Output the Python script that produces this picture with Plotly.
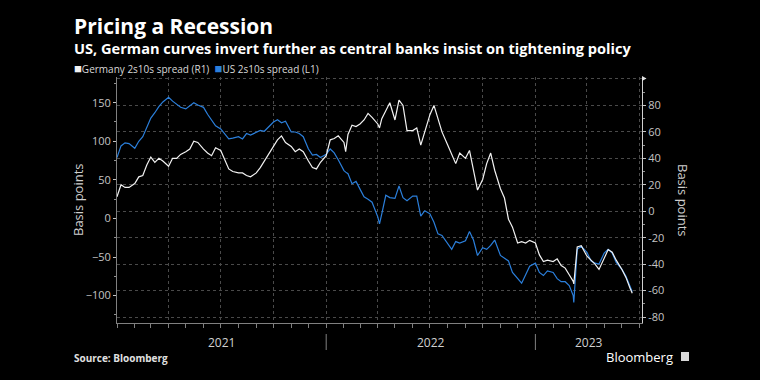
import plotly.graph_objects as go
import pandas as pd

TITLE = "Pricing a Recession"
SUBTITLE = "US, German curves invert further as central banks insist on tightening policy"
NAME_DE = "Germany 2s10s spread (R1)"
NAME_US = "US 2s10s spread (L1)"
SOURCE = "Source: Bloomberg"
BRAND = "Bloomberg"
AXIS_TITLE = "Basis points"
YEAR_LABELS = ["2021", "2022", "2023"]
YEAR_STARTS = ["2021-01-01", "2022-01-01", "2023-01-01"]
LEFT_TICKS = [-100, -50, 0, 50, 100, 150]
RIGHT_TICKS = [-80, -60, -40, -20, 0, 20, 40, 60, 80]
RIGHT_GRID_TOP = 100

DATES = [
    "2021-01-01", "2021-01-08", "2021-01-15", "2021-01-22", "2021-02-01", "2021-02-08", "2021-02-15", "2021-02-22",
    "2021-03-01", "2021-03-08", "2021-03-15", "2021-03-22", "2021-04-01", "2021-04-08", "2021-04-15", "2021-04-22",
    "2021-05-01", "2021-05-08", "2021-05-15", "2021-05-22", "2021-06-01", "2021-06-08", "2021-06-15", "2021-06-22",
    "2021-07-01", "2021-07-08", "2021-07-15", "2021-07-22", "2021-08-01", "2021-08-08", "2021-08-15", "2021-08-22",
    "2021-09-01", "2021-09-08", "2021-09-15", "2021-09-22", "2021-10-01", "2021-10-08", "2021-10-15", "2021-10-22",
    "2021-11-01", "2021-11-08", "2021-11-15", "2021-11-22", "2021-12-01", "2021-12-08", "2021-12-15", "2021-12-22",
    "2022-01-01", "2022-01-08", "2022-01-15", "2022-01-22", "2022-02-01", "2022-02-04", "2022-02-08", "2022-02-15",
    "2022-02-22", "2022-03-01", "2022-03-08", "2022-03-15", "2022-03-22", "2022-04-01", "2022-04-04", "2022-04-08",
    "2022-04-15", "2022-04-22", "2022-05-01", "2022-05-08", "2022-05-15", "2022-05-22", "2022-06-01", "2022-06-08",
    "2022-06-15", "2022-06-22", "2022-07-01", "2022-07-08", "2022-07-15", "2022-07-22", "2022-08-01", "2022-08-08",
    "2022-08-15", "2022-08-22", "2022-09-01", "2022-09-08", "2022-09-15", "2022-09-22", "2022-10-01", "2022-10-08",
    "2022-10-15", "2022-10-22", "2022-11-01", "2022-11-08", "2022-11-15", "2022-11-22", "2022-12-01", "2022-12-08",
    "2022-12-15", "2022-12-22", "2023-01-01", "2023-01-08", "2023-01-15", "2023-01-22", "2023-02-01", "2023-02-08",
    "2023-02-15", "2023-02-22", "2023-03-01", "2023-03-08", "2023-03-09", "2023-03-15", "2023-03-22", "2023-04-01",
    "2023-04-08", "2023-04-15", "2023-04-22", "2023-05-01", "2023-05-08", "2023-05-15", "2023-05-22", "2023-06-01",
    "2023-06-08", "2023-06-15", "2023-06-19",
]

US_SPREAD = [
    79, 94, 98, 97, 91, 100, 106, 118,
    130, 137, 145, 151, 157, 152, 148, 144,
    142, 146, 150, 147, 144, 135, 128, 120,
    116, 110, 103, 104, 106, 103, 110, 108,
    112, 114, 113, 118, 125, 128, 124, 126,
    112, 112, 110, 106, 90, 82, 83, 79,
    83, 90, 85, 76, 62, 60, 58, 45,
    48, 38, 28, 25, 21, 2, -7, 6,
    30, 27, 26, 42, 27, 23, 29, 29,
    3, 10, 6, -5, -20, -22, -32, -40,
    -30, -32, -29, -17, -28, -48, -38, -40,
    -35, -28, -48, -52, -55, -70, -78, -84,
    -73, -62, -58, -70, -74, -68, -70, -78,
    -82, -82, -87, -100, -109, -40, -36, -44,
    -55, -58, -59, -45, -40, -45, -57, -66,
    -75, -88, -95,
]

DE_SPREAD = [
    11, 20, 18, 18, 21, 26, 27, 35,
    41, 37, 40, 38, 34, 40, 40, 43,
    45, 47, 53, 52, 47, 44, 42, 48,
    46, 39, 32, 30, 29, 29, 27, 26,
    29, 33, 38, 42, 49, 54, 57, 52,
    49, 45, 47, 45, 38, 33, 32, 37,
    42, 54, 55, 57, 52, 45, 58, 65,
    64, 66, 69, 74, 71, 66, 63, 70,
    76, 82, 69, 84, 80, 61, 61, 63,
    50, 60, 73, 80, 70, 60, 50, 43,
    36, 44, 40, 46, 31, 16, 24, 36,
    44, 31, 17, 10, -6, -12, -24, -23,
    -24, -22, -24, -33, -38, -37, -38, -36,
    -41, -43, -48, -53, -55, -27, -26, -34,
    -37, -40, -44, -35, -29, -31, -37, -44,
    -50, -58, -62,
]

X_RANGE = ["2021-01-01", "2023-07-06"]
LEFT_RANGE = [-135.5, 183.3]
RIGHT_RANGE = [-84.5, 101.5]

W, H = 760, 380
L_PX, R_PX, T_PX, B_PX = 117, 642, 77, 323
PW, PH = R_PX - L_PX, B_PX - T_PX


def px_x(p):
    return (p - L_PX) / PW


def px_y(p):
    return (B_PX - p) / PH


FONT = "Open Sans"
BLUE = "#2b7fdb"
WHITE = "#f2f2f2"
TICK_COL = "#c4c4c4"
GRID_COL = "#4a4a4a"

fig = go.Figure()
fig.add_trace(go.Scatter(x=DATES, y=US_SPREAD, name=NAME_US, mode="lines",
                         line=dict(color=BLUE, width=1.2), yaxis="y"))
fig.add_trace(go.Scatter(x=DATES, y=DE_SPREAD, name=NAME_DE, mode="lines",
                         line=dict(color=WHITE, width=1.2), yaxis="y2"))

right_vals = RIGHT_TICKS + [RIGHT_GRID_TOP]
right_text = [str(v) for v in RIGHT_TICKS] + [""]

fig.update_layout(
    width=W, height=H,
    margin=dict(l=L_PX, r=W - R_PX, t=T_PX, b=H - B_PX),
    paper_bgcolor="black", plot_bgcolor="black",
    showlegend=False,
    font=dict(family=FONT, color=TICK_COL, size=11),
    xaxis=dict(
        type="date", range=X_RANGE, showgrid=True, griddash="dot", gridcolor=GRID_COL, gridwidth=1,
        dtick="M3", tick0="2021-01-01", ticks="outside", ticklen=4, tickcolor="#808080",
        showticklabels=False, showline=True, linecolor="#808080", linewidth=1, zeroline=False,
        minor=dict(dtick="M1", tick0="2021-01-01", ticks="outside", ticklen=4, tickcolor="#808080", showgrid=False),
    ),
    yaxis=dict(
        range=LEFT_RANGE, tickvals=LEFT_TICKS, showgrid=False, zeroline=False,
        ticks="outside", ticklen=3, tickcolor=TICK_COL, showline=True, linecolor="#808080",
        tickfont=dict(family=FONT, size=11, color=TICK_COL),
        minor=dict(dtick=25, tick0=0, ticks="outside", ticklen=2, tickcolor="#909090", showgrid=False),
    ),
    yaxis2=dict(
        range=RIGHT_RANGE, tickvals=right_vals, ticktext=right_text, overlaying="y", side="right", anchor="x",
        showgrid=True, griddash="dot", gridcolor=GRID_COL, gridwidth=1, zeroline=False,
        ticks="outside", ticklen=3, tickcolor=TICK_COL, showline=True, linecolor="#d0d0d0",
        tickfont=dict(family=FONT, size=11, color=TICK_COL),
        minor=dict(dtick=10, tick0=0, ticks="outside", ticklen=2, tickcolor="#909090", showgrid=False),
    ),
)

ann = []
ann.append(dict(text="<b>" + TITLE + "</b>", x=px_x(72), y=px_y(26.5), xref="paper", yref="paper",
                xanchor="left", yanchor="middle", showarrow=False,
                font=dict(family=FONT, size=21, color="white")))
ann.append(dict(text="<b>" + SUBTITLE + "</b>", x=px_x(72), y=px_y(47.5), xref="paper", yref="paper",
                xanchor="left", yanchor="middle", showarrow=False,
                font=dict(family=FONT, size=14.6, color="white")))
legend_txt = (f"<span style='color:{WHITE};font-size:13px'>■</span>{NAME_DE}  "
              f"<span style='color:{BLUE};font-size:13px'>■</span>{NAME_US}")
ann.append(dict(text=legend_txt, x=px_x(72), y=px_y(68), xref="paper", yref="paper",
                xanchor="left", yanchor="middle", showarrow=False,
                font=dict(family=FONT, size=10, color="#d8d8d8")))
ann.append(dict(text=AXIS_TITLE, x=px_x(78), y=0.5, xref="paper", yref="paper", textangle=-90,
                xanchor="center", yanchor="middle", showarrow=False,
                font=dict(family=FONT, size=13, color="#cfcfcf")))
ann.append(dict(text=AXIS_TITLE, x=px_x(683), y=0.5, xref="paper", yref="paper", textangle=90,
                xanchor="center", yanchor="middle", showarrow=False,
                font=dict(family=FONT, size=13, color="#cfcfcf")))
ann.append(dict(text="<b>" + SOURCE + "</b>", x=px_x(72), y=px_y(358), xref="paper", yref="paper",
                xanchor="left", yanchor="middle", showarrow=False,
                font=dict(family=FONT, size=10, color="#e0e0e0")))
ann.append(dict(text=BRAND, x=px_x(675), y=px_y(357), xref="paper", yref="paper",
                xanchor="right", yanchor="middle", showarrow=False,
                font=dict(family=FONT, size=13, color="white")))

# year labels centred in each year's span on the axis
starts = [pd.Timestamp(s) for s in YEAR_STARTS] + [pd.Timestamp(X_RANGE[1])]
for i, lab in enumerate(YEAR_LABELS):
    mid = starts[i] + (starts[i + 1] - starts[i]) / 2
    ann.append(dict(text=lab, x=mid, y=px_y(342), xref="x", yref="paper",
                    xanchor="center", yanchor="middle", showarrow=False,
                    font=dict(family=FONT, size=12, color="#d0d0d0")))
fig.update_layout(annotations=ann)

shapes = []
for s in YEAR_STARTS[1:]:
    shapes.append(dict(type="line", xref="x", yref="paper", x0=s, x1=s, y0=px_y(334), y1=px_y(350),
                       line=dict(color="#808080", width=1)))
# small flag on top of right axis
shapes.append(dict(type="path", xref="paper", yref="paper",
                   path=f"M {px_x(642)} {px_y(76)} L {px_x(646.5)} {px_y(78.5)} L {px_x(642)} {px_y(81)} Z",
                   fillcolor="#e0e0e0", line=dict(width=0)))
# logo glyph box
shapes.append(dict(type="rect", xref="paper", yref="paper", x0=px_x(681), x1=px_x(689),
                   y0=px_y(361), y1=px_y(352), fillcolor="#d8d8d8", line=dict(width=0)))
fig.update_layout(shapes=shapes)

fig.write_html("out.html", config={"displayModeBar": False},
               post_script="document.body.style.margin='0px';document.body.style.overflow='hidden';")
